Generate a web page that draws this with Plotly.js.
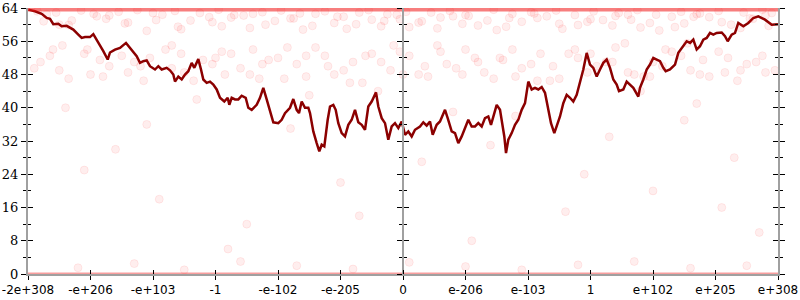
<!DOCTYPE html>
<html>
<head>
<meta charset="utf-8">
<script src="https://cdn.plot.ly/plotly-3.0.1.min.js"></script>
<style>html,body{margin:0;padding:0;background:#fff;}#chart{width:800px;height:300px;}</style>
</head>
<body>
<div id="chart"></div>
<script>
// tick positions (index along the float-bit axis) and labels
const tickPos = [0,1,2,3,4,5,6,7,8,9,10,11,12];
const tickLabels = ["-2e+308","-e+206","-e+103","-1","-e-102","-e-205","0","e-206","e-103","1","e+102","e+205","e+308"];
const yTicks = [0,8,16,24,32,40,48,56,64];

// running line (dark red)
const lineX = [0.005,0.112,0.219,0.299,0.352,0.405,0.485,0.539,0.619,0.672,0.725,0.805,0.859,0.912,0.992,1.045,1.099,1.152,1.205,1.275,1.312,1.392,1.472,1.568,1.632,1.685,1.739,1.792,1.845,1.899,1.952,2.032,2.085,2.139,2.219,2.272,2.325,2.352,2.405,2.459,2.512,2.565,2.619,2.661,2.725,2.768,2.805,2.859,2.912,2.965,3.019,3.072,3.141,3.195,3.221,3.259,3.312,3.365,3.419,3.483,3.525,3.579,3.659,3.712,3.765,3.819,3.872,3.925,4.005,4.059,4.112,4.192,4.245,4.299,4.336,4.379,4.432,4.485,4.512,4.565,4.619,4.661,4.699,4.741,4.795,4.832,4.885,4.923,4.965,5.019,5.072,5.125,5.179,5.232,5.285,5.339,5.392,5.445,5.499,5.568,5.605,5.659,5.712,5.765,5.819,5.872,5.925,5.979,6.032,6.085,6.139,6.192,6.272,6.325,6.379,6.432,6.475,6.539,6.592,6.672,6.715,6.779,6.832,6.885,6.939,6.992,7.045,7.099,7.152,7.205,7.259,7.312,7.365,7.408,7.445,7.499,7.552,7.589,7.621,7.648,7.685,7.739,7.792,7.845,7.899,7.952,8.005,8.059,8.112,8.165,8.219,8.272,8.325,8.368,8.421,8.459,8.512,8.565,8.619,8.672,8.725,8.779,8.832,8.885,8.939,8.992,9.045,9.099,9.152,9.205,9.259,9.312,9.365,9.419,9.456,9.525,9.579,9.632,9.685,9.765,9.792,9.845,9.899,9.952,10.005,10.059,10.112,10.165,10.203,10.272,10.352,10.405,10.469,10.539,10.592,10.645,10.699,10.752,10.805,10.859,10.912,10.965,11.019,11.099,11.152,11.195,11.259,11.312,11.365,11.445,11.525,11.605,11.685,11.739,11.792,11.899,12.0];
const lineY = [63.6,63.2,62.6,61.6,61.4,60.1,60.2,59.6,59.7,59.2,58.8,57.6,56.8,57.0,57.0,57.7,56.4,54.8,53.6,51.6,53.3,54.0,54.4,55.6,54.4,53.2,52.4,50.8,51.2,51.4,50.0,49.2,50.0,49.2,49.6,49.0,48.0,46.3,47.5,46.8,48.0,48.8,50.8,49.6,51.7,49.2,46.8,46.0,46.3,45.6,44.4,42.4,41.5,42.4,40.7,42.4,42.0,42.0,42.9,42.4,40.0,39.5,40.7,42.4,44.8,42.0,39.5,36.5,36.3,37.1,38.7,40.0,42.1,39.5,38.7,41.5,40.0,40.0,38.7,34.3,31.5,29.5,31.1,30.7,37.1,40.3,40.7,39.5,36.3,33.9,33.1,35.9,37.1,39.5,36.5,35.9,34.7,40.3,41.5,43.7,40.3,37.5,36.3,32.3,35.5,36.3,35.1,36.7,33.5,34.3,33.1,34.7,35.5,36.5,35.7,36.7,33.5,35.9,36.7,39.5,37.5,34.3,33.9,31.5,33.1,35.1,37.1,35.5,35.5,36.3,35.5,37.5,37.9,35.9,37.9,40.7,39.5,36.3,33.1,29.1,32.3,33.9,35.9,37.1,39.5,41.1,46.3,44.4,44.8,44.4,45.0,43.6,39.5,36.3,33.9,35.5,37.9,41.1,43.1,42.4,41.5,43.1,46.0,49.2,53.2,50.4,49.6,47.5,49.2,50.8,51.6,49.6,46.8,45.6,44.0,44.4,46.3,45.6,44.8,42.7,44.8,46.8,49.2,50.4,52.0,51.6,51.2,49.6,48.8,49.2,50.4,53.2,54.4,56.0,55.6,56.4,54.0,54.8,56.4,56.8,58.0,57.6,58.0,58.1,57.2,56.0,57.6,58.0,60.4,59.6,60.4,61.6,62.0,61.6,61.2,60.0,60.1];

// faint sample cloud: upper band and middle band
const bandX = [0.3,0.7,1.1,1.6,2.0,2.4,2.9,3.3,3.8,4.2,4.6,5.1,5.5,5.9,6.3,6.8,7.2,7.7,8.1,8.5,9.0,9.4,9.8,10.3,10.7,11.1,11.6,11.9,0.5,1.3,1.9,2.6,3.1,3.6,4.4,4.9,5.3,5.7,6.1,6.6,7.0,7.5,7.9,8.3,8.8,9.2,9.6,10.1,10.5,10.9,11.4,11.8,
  0.15,0.45,0.85,1.05,1.45,1.75,2.15,2.35,2.75,3.05,3.45,3.75,4.05,4.35,4.75,5.05,5.45,5.75,6.05,6.45,6.75,7.05,7.45,7.75,8.05,8.45,8.75,9.05,9.45,9.75,10.05,10.45,10.75,11.05,11.45,11.75,
  0.25,0.65,1.25,1.55,2.05,2.45,2.95,3.25,3.55,3.95,4.25,4.55,4.95,5.25,5.65,5.95,6.25,6.55,6.95,7.35,7.65,8.15,8.55,8.95,9.35,9.65,9.95,10.35,10.65,11.25,11.55,11.85,
  0.2,0.5,0.9,1.2,1.5,1.8,2.2,2.5,2.8,3.1,3.4,3.7,4.0,4.3,4.6,4.9,5.2,5.5,5.8,6.1,6.4,6.7,7.0,7.3,7.6,7.9,8.2,8.5,8.8,9.1,9.4,9.7,10.0,10.3,10.6,10.9,11.2,11.5,11.8,0.4,1.0,1.7,2.3,3.0,3.6,4.1,4.8,5.4,6.0,6.6,7.2,7.8,8.4,9.0,9.6,10.2,10.8,11.4,
  0.1,0.35,0.65,0.95,1.3,1.6,1.95,2.3,2.65,2.95,3.25,3.55,3.85,4.15,4.45,4.75,5.05,5.35,5.65,5.95,6.25,6.55,6.85,7.15,7.45,7.75,8.05,8.35,8.65,8.95,9.25,9.55,9.85,10.15,10.45,10.75,11.05,11.35,11.65,11.95,
  0.55,1.15,1.85,2.45,3.15,3.75,4.45,5.15,5.85,6.35,6.95,7.55,8.15,8.75,9.35,9.95,10.55,11.15,11.75];
const bandY = [62.5,61,62,60.5,62.8,59.5,61.8,62.3,60,61.5,62.6,59,61.2,62.4,60.8,62,59.8,61.6,62.7,60.2,61.3,62.1,59.3,61.9,62.5,60.6,61.4,62.8,60,62.2,58.5,61,59.6,62.6,58.8,60.4,62.9,60.9,59.4,61.7,62.3,58.7,60.7,62,59.9,61.1,62.4,58.6,60.3,61.8,59.2,62.2,
  63.2,62.9,63.4,62.6,63.1,63.5,62.4,63.3,62.8,63.6,62.2,63.0,63.4,62.7,63.2,61.9,63.5,62.5,63.1,62.9,63.3,62.1,63.6,62.6,63.0,63.4,62.3,63.2,62.8,63.5,62.4,63.1,62.7,63.3,62.9,63.6,
  60.8,59.9,61.4,60.3,61.1,58.9,60.6,61.7,59.2,60.9,61.5,59.7,61.9,60.1,59.6,61.3,60.5,59.1,60.2,61.0,59.5,61.6,59.0,60.7,59.8,61.2,60.4,59.4,61.9,60.0,61.5,59.7,
  51,49,53,47.5,52.5,50,54,48.5,51.5,53.5,49.5,47,52,50.5,54.5,48,51,53,49,52.5,47.5,50.5,54,48.5,51.5,49.5,53,47,52,50,54.5,48,51,53.5,49,47.5,52,50.5,48.5,54,48,51,49.5,52,54,47,50,52.5,48,53.5,51,47.5,50,53,48.5,54,51.5,49,
  49.5,52.5,47,54,50,48.5,52,55,46.5,50.5,53,48,51.5,54.5,47.5,52.5,49,46,51,53.5,48,55,49.5,52,47,54,50.5,46.5,53,48.5,51,55.5,47.5,50,52.5,48,53.5,46.5,51,49,
  55,51.5,46.5,53,48,50.5,52.5,46,55,50,48,52,46.5,54,51,47.5,55.5,48.5,52.5];
// faint sample cloud: sparse points and points near zero
const sparseX = [0.6,1.4,2.1,2.7,3.5,4.2,5.0,5.6,6.3,7.1,7.8,8.6,9.3,10.0,10.7,11.3,11.7,0.9,1.9,3.2,4.5,5.3,6.8,7.4,8.9,9.8,10.5,11.1,
  0.8,1.7,2.5,3.4,4.3,5.2,6.1,7.0,7.9,8.8,9.7,10.6,11.5];
const sparseY = [40,30,18,42,12,35,22,44,27,8,38,15,33,20,41,28,10,25,36,6,43,14,39,31,24,44,37,16,
  1.5,2.5,1,3,2,1.2,2.8,1.8,1,2.2,3,1.4,2];
// saturated samples along the top (64) and bottom (0)
const edgeX = [0,12];
const topY = [64,64];
const bottomY = [0,0];

const dotStyle = {size: 8, color: 'rgba(255,40,40,0.08)', line: {width: 1, color: 'rgba(255,0,0,0.07)'}};
const traces = [
  {x: edgeX, y: topY, xaxis: 'x2', yaxis: 'y2', mode: 'lines', line: {color: 'rgba(240,20,20,0.55)', width: 7}, hoverinfo: 'skip', showlegend: false},
  {x: edgeX, y: bottomY, xaxis: 'x', yaxis: 'y3', mode: 'lines', line: {color: 'rgba(240,40,40,0.45)', width: 3}, hoverinfo: 'skip', showlegend: false},
  {x: bandX, y: bandY, xaxis: 'x', yaxis: 'y4', mode: 'markers', marker: dotStyle, hoverinfo: 'skip', showlegend: false},
  {x: sparseX, y: sparseY, xaxis: 'x2', yaxis: 'y', mode: 'markers', marker: dotStyle, hoverinfo: 'skip', showlegend: false},
  {x: lineX, y: lineY, xaxis: 'x', yaxis: 'y', mode: 'lines', line: {color: '#8b0000', width: 2.5}, showlegend: false}
];

const baseY = {range: [0, 64], tickvals: yTicks, showgrid: false, zeroline: false, tickcolor: '#000', ticklen: 5, tickwidth: 1,
  minor: {dtick: 4, ticklen: 3, tickcolor: '#000', tickwidth: 1}};
const layout = {
  width: 800, height: 300,
  margin: {l: 28, r: 22, t: 8, b: 26},
  paper_bgcolor: '#fff', plot_bgcolor: '#fff',
  font: {family: 'DejaVu Sans', size: 12, color: '#000'},
  xaxis: {range: [0, 12], tickvals: tickPos, ticktext: tickLabels, ticks: 'outside', ticklen: 4, tickcolor: '#000', tickwidth: 1,
    showline: true, linecolor: '#a0a0a0', linewidth: 2, showgrid: false, zeroline: false, tickfont: {family: 'DejaVu Sans', size: 12}},
  xaxis2: {overlaying: 'x', anchor: 'y', side: 'bottom', range: [0, 12], tickvals: tickPos, ticks: 'inside', ticklen: 4, tickcolor: '#000', tickwidth: 1,
    showticklabels: false, showline: false, showgrid: false, zeroline: false},
  yaxis: Object.assign({}, baseY, {ticks: 'outside', showline: true, linecolor: '#a0a0a0', linewidth: 2, mirror: 'ticks',
    minor: Object.assign({}, baseY.minor, {ticks: 'outside'}), tickfont: {family: 'DejaVu Serif', size: 13}}),
  yaxis2: Object.assign({}, baseY, {overlaying: 'y', anchor: 'x', ticks: 'inside', mirror: 'ticks', showline: false, showticklabels: false,
    minor: Object.assign({}, baseY.minor, {ticks: 'inside'})}),
  yaxis3: Object.assign({}, baseY, {overlaying: 'y', anchor: 'free', position: 0.5, ticks: 'outside', showline: true, linecolor: '#a0a0a0', linewidth: 2, showticklabels: false,
    minor: Object.assign({}, baseY.minor, {ticks: 'outside'})}),
  yaxis4: Object.assign({}, baseY, {overlaying: 'y', anchor: 'free', position: 0.5, ticks: 'inside', showline: false, showticklabels: false,
    minor: Object.assign({}, baseY.minor, {ticks: 'inside'})})
};
Plotly.newPlot('chart', traces, layout, {displayModeBar: false, staticPlot: true});
</script>
</body>
</html>
